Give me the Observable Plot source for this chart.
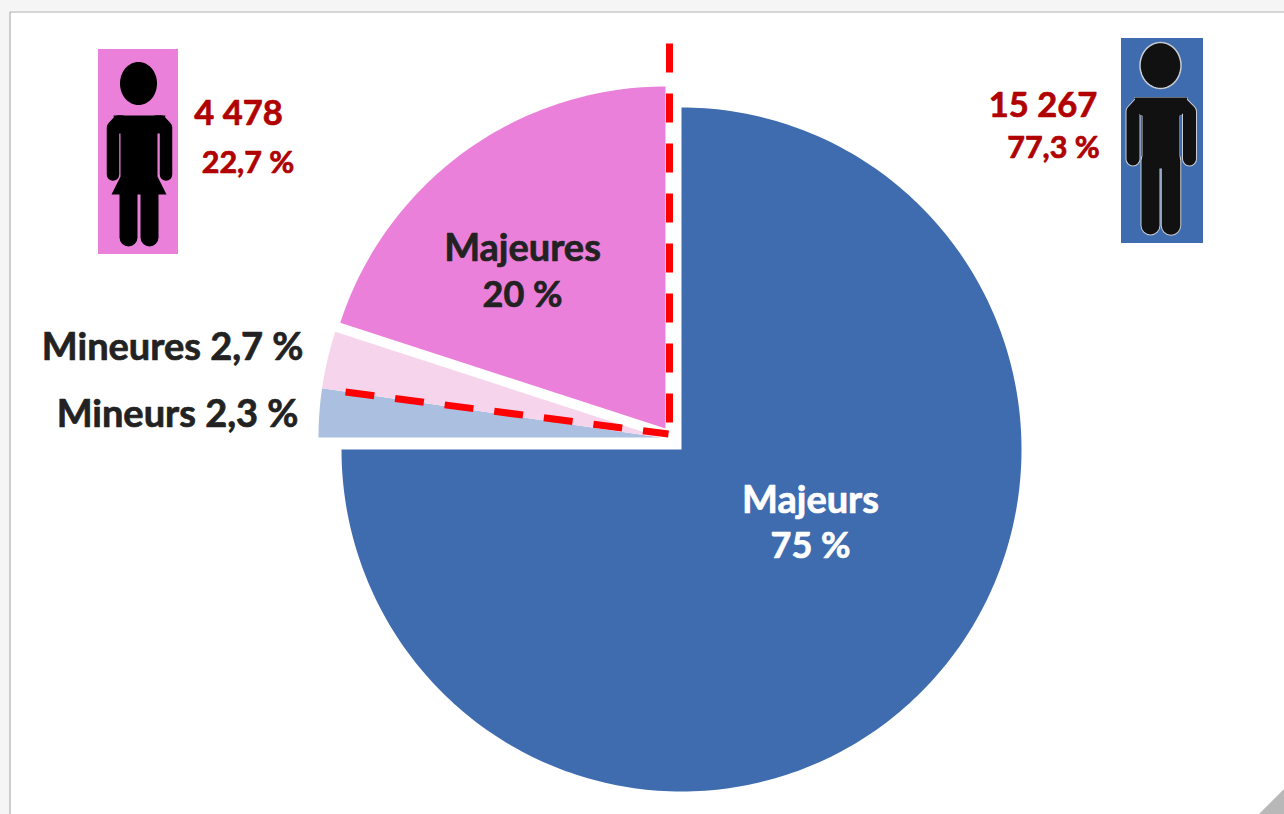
<!DOCTYPE html>
<html><head><meta charset="utf-8">
<style>html,body{margin:0;padding:0;background:#fff;overflow:hidden}svg{display:block}</style>
<script src="https://cdn.jsdelivr.net/npm/d3@7"></script>
<script src="https://cdn.jsdelivr.net/npm/@observablehq/plot@0.6"></script>
</head><body><div id="chart"></div>
<script>
// Data
const sliceNames = ["Majeurs", "Mineurs", "Mineures", "Majeures"];
const sliceShares = [75, 2.3, 2.7, 20];
const sliceColors = ["#3F6CAF", "#ABC0E0", "#F6D5EC", "#EB80DA"];
const sexTotals = ["15 267", "4 478"];
const sexShares = ["77,3 %", "22,7 %"];

// Layout, in picture units
const sliceCentres = [[681, 449], [660, 437], [660, 437], [665, 428]];
const sliceRadii = [[340, 342], [342, 342], [342, 342], [342, 342]];

const slices = [];
let start = 0;
sliceNames.forEach((name, i) => {
  const sweep = sliceShares[i] * 3.6, [cx, cy] = sliceCentres[i], [rx, ry] = sliceRadii[i];
  slices.push({name, x: cx, y: cy});
  for (const t of d3.range(0, Math.ceil(sweep) + 1)) {
    const a = (start + Math.min(t, sweep)) * Math.PI / 180;
    slices.push({name, x: cx + rx * Math.sin(a), y: cy - ry * Math.cos(a)});
  }
  start += sweep;
});

const dividers = [
  {id: "v", x: 669, y: 43}, {id: "v", x: 669, y: 424},
  {id: "s", x: 345, y: 391.5}, {id: "s", x: 668, y: 433.5}
];

// Pictograms
const panels = [
  {x1: 98, x2: 178, y1: 49, y2: 254, fill: sliceColors[3]},
  {x1: 1121, x2: 1203, y1: 38, y2: 243, fill: sliceColors[0]}
];
const toPts = a => a.map(([x, y]) => ({x, y}));
const headPts = (cx, cy, rx, ry) => d3.range(0, 366, 6).map(t => ({x: cx + rx * Math.cos(t * Math.PI / 180), y: cy + ry * Math.sin(t * Math.PI / 180)}));
const womanTorso = toPts([[113,115],[165,115],[160,133],[157,133],[157,176],[166,194],[111,194],[120,176],[120,133],[117,133]]);
const womanStrokes = [
  {w:12.5,pts:[[121,121],[118,121],[112.5,127],[112.5,174]]},
  {w:12.5,pts:[[156,121],[160,121],[165.5,127],[165.5,174]]},
  {w:18,pts:[[128,190],[128,237]]},
  {w:18,pts:[[149,190],[149,237]]}
];
const manTorso = toPts([[1134,97],[1187,97],[1181,115],[1179,115],[1179,168],[1142,168],[1142,115],[1140,115]]);
const manStrokes = [
  {w:13,pts:[[1142,104],[1139,104],[1132.5,111],[1132.5,158.5]]},
  {w:13,pts:[[1180,104],[1182,104],[1189,111],[1189,158.5]]},
  {w:18,pts:[[1150,160],[1150,225]]},
  {w:18.5,pts:[[1170.5,160],[1170.5,225]]}
];
const strokeMarks = (list, color, extra) => list.map(s =>
  Plot.line(toPts(s.pts), {x:"x", y:"y", stroke:color, strokeWidth:s.w + extra, strokeLinecap:"round", strokeLinejoin:"round", curve:"linear"}));

// Page chrome
const outerShade = [{x1:0,x2:1284,y1:0,y2:11},{x1:0,x2:9,y1:0,y2:814}];
const frameLines = [
  {x:9.5,y:814},{x:9.5,y:11.5},{x:1284,y:11.5}
];
const fold = toPts([[1284,788],[1284,814],[1258,814]]);

const sliceLabels = [
  {t:sliceNames[0],x:810,y:512,fill:"#fff",size:38},
  {t:`${sliceShares[0]} %`,x:810,y:557,fill:"#fff",size:36},
  {t:sliceNames[3],x:522,y:260,fill:"#222",size:38},
  {t:`${sliceShares[3]} %`,x:522,y:306,fill:"#222",size:36}
];
const sideLabels = [
  {t:"Mineures 2,7 %",x:303,y:359},
  {t:"Mineurs 2,3 %",x:298,y:426}
];
const totalLabels = [
  {t:sexTotals[1],x:238,y:124,size:34.5},
  {t:sexShares[1],x:247.5,y:172,size:30.5},
  {t:sexTotals[0],x:1042.5,y:116,size:34.5},
  {t:sexShares[0],x:1053,y:157,size:30.5}
];

const textMark = (rows, opts) => Plot.text(rows, {x:"x", y:"y", text:"t", lineAnchor:"bottom", fontFamily:"Lato", fontWeight:700, strokeWidth:0.7, ...opts});

const chart = Plot.plot({
  width:1284, height:814, margin:0,
  style:{background:"#fff"},
  x:{domain:[0,1284], range:[0,1284], axis:null},
  y:{domain:[0,814], range:[0,814], axis:null},
  color:{domain:sliceNames, range:sliceColors},
  marks:[
    Plot.rect(outerShade,{x1:"x1",x2:"x2",y1:"y1",y2:"y2",fill:"#f5f5f5"}),
    Plot.line(frameLines,{x:"x",y:"y",stroke:"#adadad",strokeWidth:1.2,curve:"linear"}),
    Plot.line(fold,{x:"x",y:"y",fill:"#b8b8b8",stroke:"none",curve:"linear"}),
    Plot.rect(panels,{x1:"x1",x2:"x2",y1:"y1",y2:"y2",fill:"fill"}),
    // woman
    Plot.line(headPts(138,83,18.5,21.5),{x:"x",y:"y",fill:"#000",stroke:"none",curve:"linear"}),
    Plot.line(womanTorso,{x:"x",y:"y",fill:"#000",stroke:"none",curve:"linear"}),
    ...strokeMarks(womanStrokes,"#000",0),
    // man
    Plot.line(headPts(1160,65,20.5,23),{x:"x",y:"y",fill:"#111",stroke:"#c9ccd2",strokeWidth:1.5,curve:"linear"}),
    ...strokeMarks(manStrokes,"#c9ccd2",2),
    Plot.line(manTorso,{x:"x",y:"y",fill:"#111",stroke:"#c9ccd2",strokeWidth:1,curve:"linear"}),
    ...strokeMarks(manStrokes,"#111",0),
    Plot.line(manTorso,{x:"x",y:"y",fill:"#111",stroke:"none",curve:"linear"}),
    // pie
    Plot.line(slices,{x:"x",y:"y",z:"name",fill:"name",stroke:"none",curve:"linear"}),
    Plot.line(dividers,{x:"x",y:"y",z:d=>d.id,stroke:"#FF0000",strokeWidth:7,strokeDasharray:"29,21",strokeLinecap:"butt",curve:"linear"}),
    textMark(sliceLabels,{fill:"fill",stroke:"fill",textAnchor:"middle",fontSize:"size"}),
    textMark(sideLabels,{fill:"#222",stroke:"#222",textAnchor:"end",fontSize:38}),
    textMark(totalLabels,{fill:"#B00000",stroke:"#B00000",fontSize:"size"})
  ]
});
document.getElementById("chart").append(chart);
</script></body></html>
